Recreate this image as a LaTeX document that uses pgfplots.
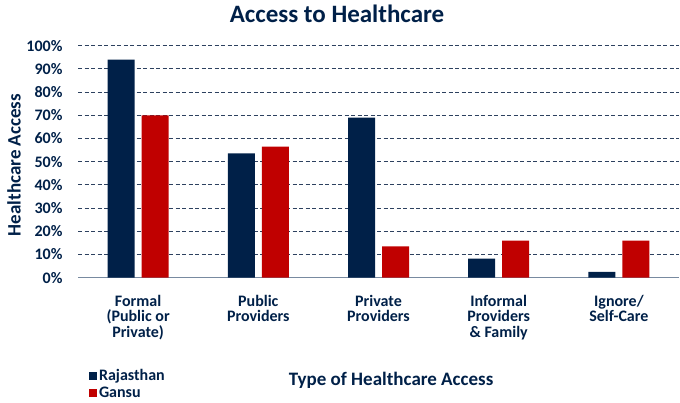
\documentclass[border=0pt]{standalone}
\usepackage{fontspec}
\setmainfont{Carlito}
\usepackage{pgfplots}
\pgfplotsset{compat=1.18}
\definecolor{navy}{RGB}{0,32,72}
\definecolor{gansu}{RGB}{192,0,0}
\definecolor{gridc}{RGB}{45,65,95}
\definecolor{axisc}{RGB}{120,138,160}

\begin{document}
\begin{tikzpicture}
\useasboundingbox (0,0) rectangle (680pt,403pt);
\begin{axis}[
    at={(78pt,125.3pt)}, anchor=south west,
    scale only axis, width=601pt, height=232pt,
    ybar=7pt, bar width=27pt,
    xmin=-0.5, xmax=4.5, ymin=0, ymax=100,
    xtick={0,1,2,3,4},
    xticklabels={{Formal\\(Public or\\Private)},{Public\\Providers},{Private\\Providers},{Informal\\Providers\\\& Family},{Ignore/\\Self-Care}},
    xticklabel style={align=center, anchor=north, yshift=-14pt,
        font=\fontsize{16}{15.5}\selectfont\bfseries, text=navy},
    ytick={0,10,...,100},
    yticklabels={0\%,10\%,20\%,30\%,40\%,50\%,60\%,70\%,80\%,90\%,100\%},
    yticklabel style={font=\fontsize{16}{18}\selectfont\bfseries, text=navy, xshift=-12pt},
    major tick length=0pt,
    axis x line*=bottom, axis y line*=left,
    x axis line style={draw=axisc, line width=1.6pt, -},
    y axis line style={draw=none},
    ymajorgrids,
    major grid style={draw=gridc, line width=0.9pt, dash pattern=on 4pt off 2.5pt},
    title={Access to Healthcare},
    title style={at={(axis description cs:0.431,1.111)}, anchor=center,
        font=\fontsize{25}{30}\selectfont\bfseries, text=navy},
    xlabel={Type of Healthcare Access},
    xlabel style={at={(axis description cs:0.521,-0.441)}, anchor=center,
        font=\fontsize{19}{23}\selectfont\bfseries, text=navy},
    ylabel={Healthcare Access},
    ylabel style={at={(axis description cs:-0.1065,0.486)}, anchor=center, rotate=0,
        font=\fontsize{19}{23}\selectfont\bfseries, text=navy},
    legend style={at={(axis description cs:0.018,-0.385)}, anchor=north west,
        draw=none, fill=none, font=\fontsize{16}{18}\selectfont\bfseries, text=navy,
        row sep=1pt, inner sep=0pt},
    legend cell align=left,
    legend image code/.code={\fill[#1] (0pt,-4pt) rectangle (8pt,4pt);},
]
\addplot[fill=navy, draw=none] coordinates {
    (0,94) (1,53.6) (2,69) (3,8.2) (4,2.5)
};
\addplot[fill=gansu, draw=none] coordinates {
    (0,70) (1,56.5) (2,13.5) (3,16) (4,16)
};
\legend{Rajasthan,Gansu}
\end{axis}
\end{tikzpicture}
\end{document}
